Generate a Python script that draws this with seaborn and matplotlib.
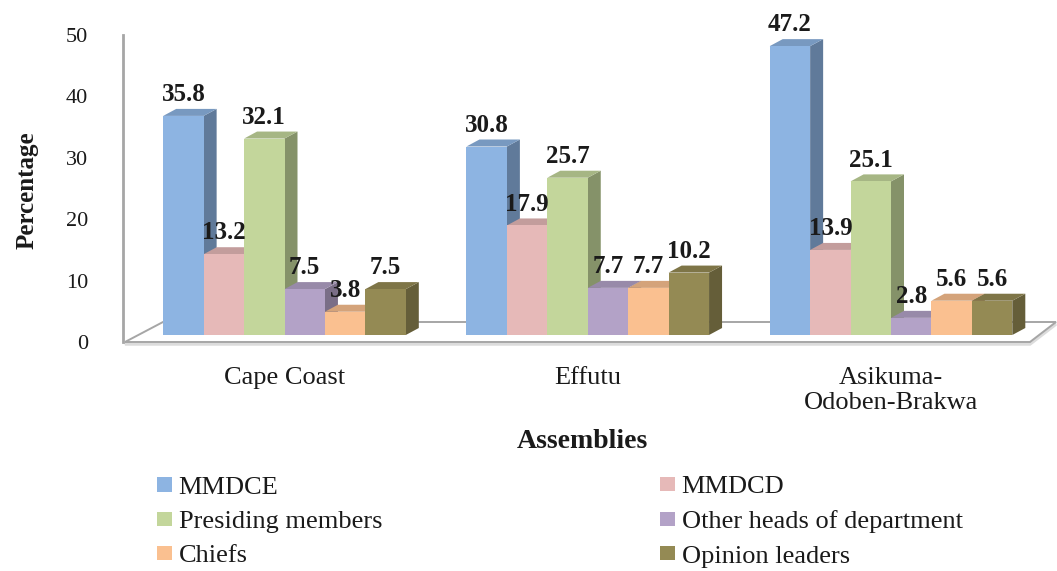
import numpy as np
import pandas as pd
import matplotlib
matplotlib.use("Agg")
import matplotlib.pyplot as plt
import seaborn as sns
from matplotlib import font_manager as fm
from matplotlib.patches import Polygon
from matplotlib.colors import to_rgb

# ---- data -------------------------------------------------------------
assemblies = ["Cape Coast", "Effutu", "Asikuma-\nOdoben-Brakwa"]
groups = ["MMDCE", "MMDCD", "Presiding members",
          "Other heads of department", "Chiefs", "Opinion leaders"]
mmdce = [35.8, 30.8, 47.2]
mmdcd = [13.2, 17.9, 13.9]
presiding = [32.1, 25.7, 25.1]
other_heads = [7.5, 7.7, 2.8]
chiefs = [3.8, 7.7, 5.6]
opinion = [7.5, 10.2, 5.6]
y_ticks = [0, 10, 20, 30, 40, 50]

colors = ["#8DB4E2", "#E6B9B8", "#C3D69B", "#B3A2C7", "#FAC090", "#948A54"]

df = pd.DataFrame({
    "Assembly": assemblies * len(groups),
    "Group": np.repeat(groups, len(assemblies)),
    "Percentage": mmdce + mmdcd + presiding + other_heads + chiefs + opinion,
})

# ---- style ------------------------------------------------------------
sns.set_theme(style="white")
plt.rcParams["font.family"] = ["Liberation Serif", "DejaVu Serif"]
plt.rcParams["font.serif"] = ["Liberation Serif", "DejaVu Serif"]

serif_path = fm.findfont(fm.FontProperties(family="Liberation Serif", weight="normal"),
                         fallback_to_default=False)
REG = fm.FontProperties(fname=serif_path)

TXT = "#1a1a1a"
EDGE = "#a6a6a6"

W, H = 1057, 571
fig = plt.figure(figsize=(W / 100, H / 100), dpi=100)
fig.patch.set_facecolor("white")

# main plotting area (bars sit on a pseudo-3D floor)
ax = fig.add_axes([123 / W, (H - 342) / H, (W - 123) / W, (342 - 20) / H])
ax.set_facecolor("none")

sns.barplot(data=df, x="Assembly", y="Percentage", hue="Group",
            hue_order=groups, order=assemblies, palette=colors,
            saturation=1, errorbar=None, width=0.8, gap=0,
            linewidth=0, ax=ax)

handles, labels = ax.get_legend_handles_labels()
ax.legend_.remove()

px_x = 303.25   # pixels per category unit
px_y = 6.12     # pixels per percentage point
x_left = -(284.5 - 123) / px_x
x_right = (W - 284.5) / px_x
y_bottom = -(342 - 335) / px_y
y_top = (335 - 20) / px_y
ax.set_xlim(x_left, x_right)
ax.set_ylim(y_bottom, y_top)

# depth of each bar (side + top faces)
dx = 13 / px_x
dy = 7 / px_y


def shade(c, f):
    r, g, b = to_rgb(c)
    return (r * f, g * f, b * f)


# floor
fy_front, fy_back = y_bottom, (335 - 322) / px_y
fx = [(125 - 284.5) / px_x, (1030 - 284.5) / px_x,
      (1056 - 284.5) / px_x, (163 - 284.5) / px_x]
floor_pts = [(fx[0], fy_front), (fx[1], fy_front), (fx[2], fy_back), (fx[3], fy_back)]
shadow_pts = [(x, y - 2.2 / px_y) for x, y in floor_pts]
ax.add_patch(Polygon(shadow_pts, closed=True, facecolor="none",
                     edgecolor="#dcdcdc", lw=2.2, zorder=0.5, clip_on=False))
ax.add_patch(Polygon(floor_pts, closed=True, facecolor="white",
                     edgecolor=EDGE, lw=1.4, zorder=0.6, clip_on=False))

# side and top faces, painted left to right
bars = []
for container, col in zip(ax.containers, colors):
    for p in container.patches:
        bars.append((p, col))
bars.sort(key=lambda t: t[0].get_x())
for k, (p, col) in enumerate(bars):
    x0, w, h = p.get_x(), p.get_width(), p.get_height()
    z = 3 + 0.01 * k
    side = [(x0 + w, 0), (x0 + w + dx, dy), (x0 + w + dx, h + dy), (x0 + w, h)]
    top = [(x0, h), (x0 + w, h), (x0 + w + dx, h + dy), (x0 + dx, h + dy)]
    ax.add_patch(Polygon(side, closed=True, facecolor=shade(col, 0.68),
                         edgecolor="none", zorder=z))
    ax.add_patch(Polygon(top, closed=True, facecolor=shade(col, 0.85),
                         edgecolor="none", zorder=z))
    p.set_zorder(z + 0.005)

# value labels
for container in ax.containers:
    ax.bar_label(container, fmt="%.1f", padding=7, fontsize=18,
                 fontweight="bold", color=TXT, zorder=10)

for s in ax.spines.values():
    s.set_visible(False)
ax.set_yticks([])
ax.set_xlabel("")
ax.set_ylabel("")
ax.tick_params(axis="x", length=0, pad=18, labelcolor=TXT)
for t in ax.get_xticklabels():
    t.set_fontproperties(REG)
    t.set_fontsize(19)

# value axis drawn along the left edge
yax = fig.add_axes([123 / W, (H - 342) / H, 0.0005, 307 / H])
yax.set_facecolor("none")
yax.set_ylim(0, 50)
yax.set_yticks(y_ticks)
yax.set_yticklabels([str(v) for v in y_ticks])
yax.set_xticks([])
for name, s in yax.spines.items():
    s.set_visible(name == "left")
yax.spines["left"].set_color(EDGE)
yax.spines["left"].set_linewidth(2)
yax.tick_params(axis="y", direction="out", length=8, width=1.5, color=EDGE,
                pad=17, labelcolor=TXT)
for t in yax.get_yticklabels():
    t.set_fontproperties(REG)
    t.set_fontsize(16)

# axis titles
fig.text(27 / W, 1 - 190 / H, "Percentage", rotation=90, ha="center",
         va="center", fontsize=18, fontweight="bold", color=TXT)
fig.text(582 / W, 1 - 442 / H, "Assemblies", ha="center", va="center",
         fontsize=20, fontweight="bold", color=TXT)

# two-column legend
order_left = [0, 2, 4]
order_right = [1, 3, 5]
leg_prop = fm.FontProperties(fname=serif_path, size=19)
leg_kw = dict(frameon=False, borderpad=0, borderaxespad=0, handlelength=0.57,
              handleheight=0.45, handletextpad=0.25, labelspacing=0.46,
              prop=leg_prop, loc="center left")
for idx, x0 in ((order_left, 157), (order_right, 660)):
    leg = fig.legend([handles[i] for i in idx], [labels[i] for i in idx],
                     bbox_to_anchor=(x0 / W, 1 - 522 / H), **leg_kw)
    for t in leg.get_texts():
        t.set_color(TXT)

fig.savefig("out.png", dpi=100)
